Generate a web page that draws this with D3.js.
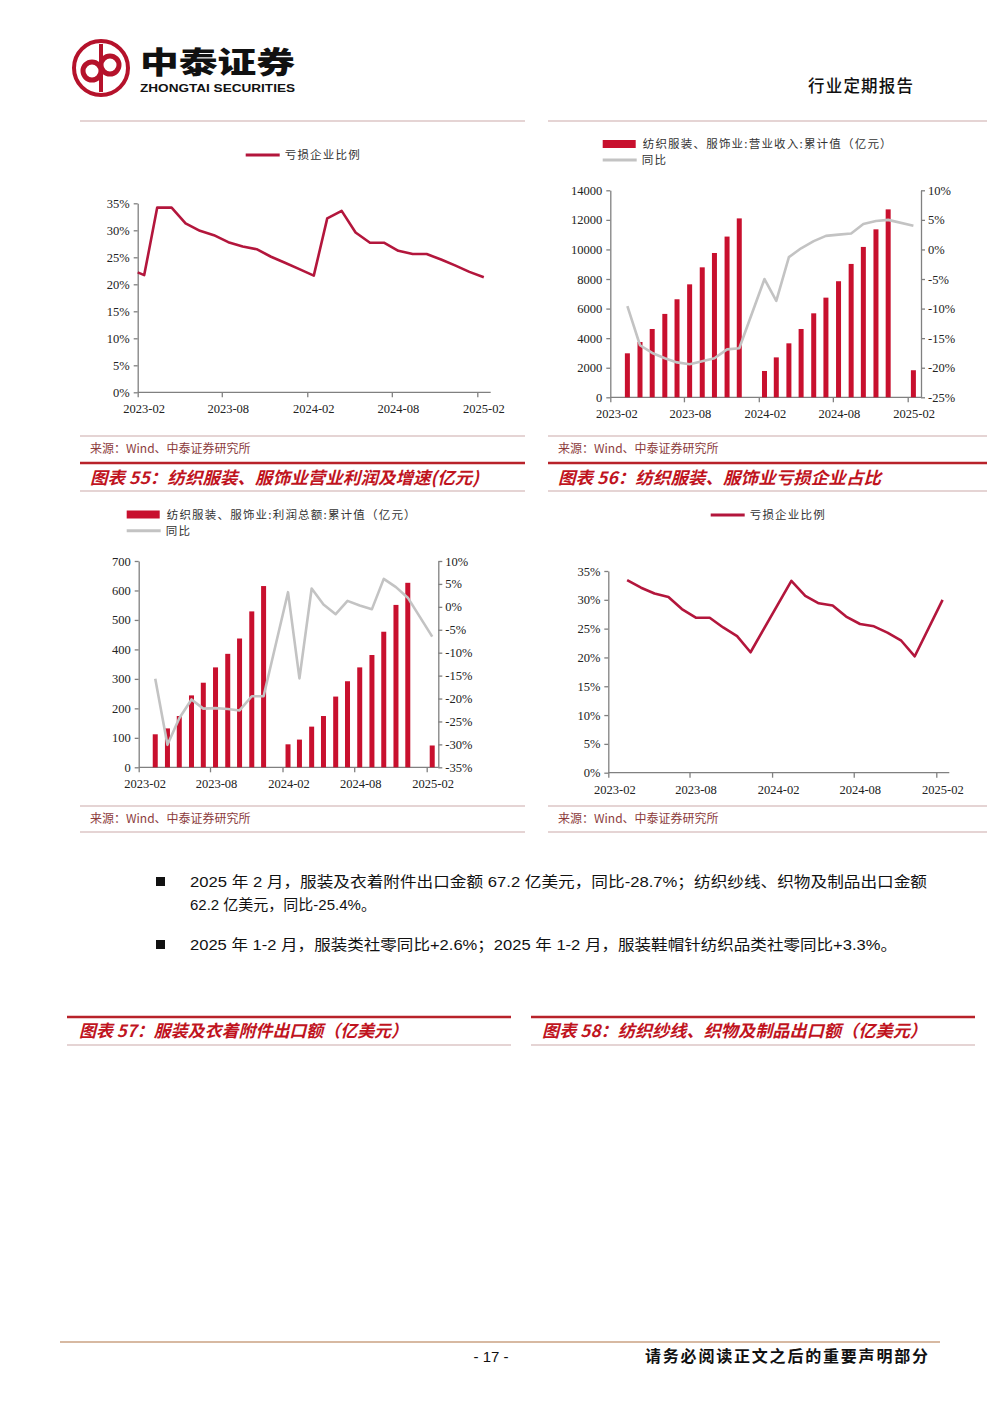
<!DOCTYPE html>
<html>
<head>
<meta charset="utf-8">
<script src="https://cdn.jsdelivr.net/npm/d3@7"></script>
<style>
body{margin:0;background:#fff}
svg text{font-family:"Noto Sans CJK SC",sans-serif}
.num{font-family:"Liberation Serif",serif;font-size:12.5px;fill:#222}
.leg{font-size:11.5px;letter-spacing:1.2px;fill:#333}
</style>
</head>
<body>
<div id="page"></div>
<script>
// ---- data ----
// chart 1 (top-left): loss-making firms ratio, previous figure
const loss1Dates=["2023-02-01","2023-02-15","2023-03-15","2023-04-15","2023-05-15","2023-06-15","2023-07-15","2023-08-15","2023-09-15","2023-10-15","2023-11-15","2023-12-15","2024-01-15","2024-02-15","2024-03-15","2024-04-15","2024-05-15","2024-06-15","2024-07-15","2024-08-15","2024-09-15","2024-10-15","2024-11-15","2024-12-15","2025-01-15","2025-02-15"];
const loss1=[22.2,21.7,34.2,34.2,31.3,29.9,29.1,27.8,27.0,26.5,25.1,24.0,22.8,21.6,32.2,33.6,29.6,27.7,27.7,26.2,25.6,25.6,24.6,23.5,22.3,21.3];

// charts 2 & 3: cumulative revenue / profit and yoy
const cumMonths=["2023-03","2023-04","2023-05","2023-06","2023-07","2023-08","2023-09","2023-10","2023-11","2023-12","2024-02","2024-03","2024-04","2024-05","2024-06","2024-07","2024-08","2024-09","2024-10","2024-11","2024-12","2025-02"];
const revenue=[2975,3740,4620,5640,6630,7640,8790,9760,10870,12100,1780,2700,3650,4620,5680,6740,7850,9020,10170,11360,12710,1830];
const revenueYoy=[-9.6,-16.2,-17.5,-18.4,-19.1,-19.4,-18.9,-18.4,-16.9,-16.7,-5.0,-8.7,-1.3,0.2,1.4,2.3,2.5,2.7,4.3,4.8,5.0,4.0];
const profit=[112,132,174,244,287,339,385,437,529,615,78,94,138,174,240,292,339,381,460,551,626,74];
const profitYoy=[-15.7,-30.1,-24.3,-20.2,-22.2,-22.1,-22.3,-22.6,-19.5,-19.5,3.2,-15.6,4.0,0.5,-1.6,1.3,0.3,-0.5,6.1,4.3,2.0,-6.5];

// chart 4 (middle-right): loss-making firms ratio
const loss4Months=["2023-03","2023-04","2023-05","2023-06","2023-07","2023-08","2023-09","2023-10","2023-11","2023-12","2024-03","2024-04","2024-05","2024-06","2024-07","2024-08","2024-09","2024-10","2024-11","2024-12","2025-02"];
const loss4=[33.4,32.1,31.1,30.5,28.4,26.9,26.9,25.2,23.7,20.9,33.3,30.7,29.4,29.0,27.1,25.8,25.4,24.3,22.9,20.2,30.0];

const xTicks=["2023-02","2023-08","2024-02","2024-08","2025-02"];
const pctTicks=[0,5,10,15,20,25,30,35];
const revTicks=[0,2000,4000,6000,8000,10000,12000,14000];
const revYoyTicks=[-25,-20,-15,-10,-5,0,5,10];
const profTicks=[0,100,200,300,400,500,600,700];
const profYoyTicks=[-35,-30,-25,-20,-15,-10,-5,0,5,10];

const RED="#c8102e", LINE="#b3163c", GREY="#c3c3c3", AXIS="#808080";

const W=1000,H=1414;
const svg=d3.select("#page").append("svg")
  .attr("width",W).attr("height",H)
  .attr("viewBox",`0 0 ${W} ${H}`);

const parseDay=d3.timeParse("%Y-%m-%d");
const mid=m=>parseDay(m+"-15");
const fmtPct=d=>d+"%";

function xScale(x0,x1){
  return d3.scaleTime().domain([parseDay("2023-02-01"),parseDay("2025-02-01")]).range([x0,x1]);
}

function drawX(g,x,y0,right){
  g.append("line").attr("x1",x.range()[0]).attr("x2",right).attr("y1",y0).attr("y2",y0)
    .attr("stroke",AXIS).attr("stroke-width",1.3);
  const a=g.append("g").attr("transform",`translate(0,${y0})`)
    .call(d3.axisBottom(x).tickValues(xTicks.map(t=>parseDay(t+"-01")))
      .tickFormat(d3.timeFormat("%Y-%m")).tickSize(5).tickSizeOuter(0));
  a.select(".domain").remove();
  a.selectAll("line").attr("stroke",AXIS).attr("stroke-width",1.3);
  a.selectAll("text").attr("class","num").attr("y",12).attr("dx",6);
}

function drawY(g,y,x0,ticks,fmt,side){
  const ax=(side==="right"?d3.axisRight(y):d3.axisLeft(y)).tickValues(ticks).tickFormat(fmt).tickSize(4).tickSizeOuter(0);
  const a=g.append("g").attr("transform",`translate(${x0},0)`).call(ax);
  a.selectAll("path,line").attr("stroke",AXIS).attr("stroke-width",1.3);
  a.selectAll("text").attr("class","num").attr("x",side==="right"?7:-8);
}

function lineLegend(x,y,color,label){
  svg.append("line").attr("x1",x).attr("x2",x+34).attr("y1",y).attr("y2",y)
    .attr("stroke",color).attr("stroke-width",3);
  svg.append("text").attr("class","leg").attr("x",x+39).attr("y",y+4).text(label);
}
function barLegend(x,y,label){
  svg.append("rect").attr("x",x).attr("y",y-4).attr("width",33).attr("height",8).attr("fill",RED);
  svg.append("text").attr("class","leg").attr("x",x+40).attr("y",y+4).text(label);
}

// ---- line-only chart ----
function lossChart(o){
  const g=svg.append("g");
  const x=xScale(o.x0,o.x1);
  const y=d3.scaleLinear().domain([0,35]).range([o.bottom,o.top]);
  drawY(g,y,o.x0,pctTicks,fmtPct,"left");
  drawX(g,x,o.bottom,o.right);
  g.append("path").datum(o.dates.map((d,i)=>[d,o.values[i]]))
    .attr("fill","none").attr("stroke",LINE).attr("stroke-width",2.6).attr("stroke-linejoin","round")
    .attr("d",d3.line().x(d=>x(d[0])).y(d=>y(d[1])));
}

// ---- bar + line chart ----
function comboChart(o){
  const g=svg.append("g");
  const x=xScale(o.x0,o.x1);
  const yL=d3.scaleLinear().domain(o.leftDomain).range([o.bottom,o.top]);
  const yR=d3.scaleLinear().domain(o.rightDomain).range([o.bottom,o.top]);
  drawY(g,yL,o.x0,o.leftTicks,d=>d,"left");
  drawY(g,yR,o.right,o.rightTicks,fmtPct,"right");
  drawX(g,x,o.bottom,o.right);
  const dates=cumMonths.map(mid);
  g.selectAll(".bar").data(o.bars).enter().append("rect")
    .attr("x",(d,i)=>x(dates[i])-2.5).attr("width",5)
    .attr("y",d=>yL(d)).attr("height",d=>yL(0)-yL(d)).attr("fill",RED);
  g.append("path").datum(o.yoy)
    .attr("fill","none").attr("stroke",GREY).attr("stroke-width",2.6).attr("stroke-linejoin","round")
    .attr("d",d3.line().x((d,i)=>x(dates[i])).y(d=>yR(d)));
}

lossChart({x0:137.7,x1:477.3,right:490.7,top:203.3,bottom:392.3,dates:loss1Dates.map(parseDay),values:loss1});
lineLegend(245.7,155,LINE,"亏损企业比例");

comboChart({x0:610.3,x1:907.7,right:921,top:190.3,bottom:397.3,
  leftDomain:[0,14000],rightDomain:[-25,10],leftTicks:revTicks,rightTicks:revYoyTicks,
  bars:revenue,yoy:revenueYoy});
barLegend(602.7,144,"纺织服装、服饰业:营业收入:累计值（亿元）");
lineLegend(602.7,160,GREY,"同比");

comboChart({x0:138.7,x1:426.7,right:438.3,top:561,bottom:767.3,
  leftDomain:[0,700],rightDomain:[-35,10],leftTicks:profTicks,rightTicks:profYoyTicks,
  bars:profit,yoy:profitYoy});
barLegend(126.7,514.5,"纺织服装、服饰业:利润总额:累计值（亿元）");
lineLegend(126.7,530.7,GREY,"同比");

lossChart({x0:608.3,x1:936.3,right:949.3,top:571,bottom:772.7,dates:loss4Months.map(mid),values:loss4});
lineLegend(710.7,515,LINE,"亏损企业比例");

// ---- page furniture ----
function rule(x1,x2,y,color,w){
  svg.append("line").attr("x1",x1).attr("x2",x2).attr("y1",y).attr("y2",y).attr("stroke",color).attr("stroke-width",w);
}
const RULE="#dcc6c6", TITLE_RED="#c0141e";
function source(x,y){
  svg.append("text").attr("x",x).attr("y",y+4).attr("font-size",12).attr("fill","#8c3c3c").text("来源：Wind、中泰证券研究所");
}
function title(x,y,txt,len){
  svg.append("text").attr("x",x).attr("y",y+6).attr("font-size",17).attr("font-weight",700)
    .attr("font-style","italic").attr("fill",TITLE_RED)
    .attr("textLength",len).attr("lengthAdjust","spacingAndGlyphs").text(txt);
}

[[80,525],[548,987]].forEach(([a,b])=>{
  rule(a,b,121,RULE,1.5); rule(a,b,436,RULE,1.5); rule(a,b,463,"#b8222a",2.5); rule(a,b,491,RULE,1.5);
  rule(a,b,806,RULE,1.5); rule(a,b,832,RULE,1.5);
  source(a+10,449); source(a+10,819);
});
title(90,478,"图表 55：纺织服装、服饰业营业利润及增速(亿元)",389);
title(558,478,"图表 56：纺织服装、服饰业亏损企业占比",323);

[[67,511],[531,975]].forEach(([a,b])=>{ rule(a,b,1017,"#b8222a",2.5); rule(a,b,1045,RULE,1.5); });
title(79,1031,"图表 57：服装及衣着附件出口额（亿美元）",329);
title(542,1031,"图表 58：纺织纱线、织物及制品出口额（亿美元）",385);

// body bullets
const body=svg.append("g").attr("font-size",15).attr("fill","#111");
[[882,"2025 年 2 月，服装及衣着附件出口金额 67.2 亿美元，同比-28.7%；纺织纱线、织物及制品出口金额",737],
 [905,"62.2 亿美元，同比-25.4%。",null],
 [945,"2025 年 1-2 月，服装类社零同比+2.6%；2025 年 1-2 月，服装鞋帽针纺织品类社零同比+3.3%。",707]]
 .forEach(([y,t,len])=>{
  const tx=body.append("text").attr("x",190).attr("y",y+5).style("font-family","Liberation Sans, Noto Sans CJK SC").text(t);
  if(len) tx.attr("textLength",len).attr("lengthAdjust","spacingAndGlyphs");
 });
[882,945].forEach(y=>body.append("rect").attr("x",156).attr("y",y-5).attr("width",9).attr("height",9).attr("fill","#111"));

// header logo
const logo=svg.append("g").attr("fill","none").attr("stroke","#b5122b");
logo.append("circle").attr("cx",101).attr("cy",68).attr("r",27).attr("stroke-width",4);
logo.append("circle").attr("cx",92).attr("cy",71).attr("r",9).attr("stroke-width",5);
logo.append("circle").attr("cx",110).attr("cy",65).attr("r",9).attr("stroke-width",5);
logo.append("line").attr("x1",101).attr("x2",101).attr("y1",44).attr("y2",92).attr("stroke-width",4);
svg.append("text").attr("x",140).attr("y",73).attr("font-size",30).attr("font-weight",900).attr("fill","#111")
  .attr("textLength",155).attr("lengthAdjust","spacingAndGlyphs").text("中泰证券");
svg.append("text").attr("x",140).attr("y",92).attr("font-size",10.5).attr("font-weight",700).attr("fill","#111")
  .style("font-family","Liberation Sans, Arial").attr("textLength",155).attr("lengthAdjust","spacingAndGlyphs").text("ZHONGTAI SECURITIES");
svg.append("text").attr("x",808).attr("y",92).attr("font-size",16.5).attr("font-weight",500).attr("fill","#111")
  .attr("textLength",105).attr("lengthAdjust","spacing").text("行业定期报告");

// footer
rule(60,940,1342,"#d7b9a2",2);
svg.append("text").attr("x",491).attr("y",1362).attr("text-anchor","middle").attr("font-size",15)
  .style("font-family","Liberation Sans, Arial").attr("fill","#111").text("- 17 -");
svg.append("text").attr("x",645).attr("y",1362).attr("font-size",16).attr("font-weight",700).attr("fill","#111")
  .attr("textLength",283).attr("lengthAdjust","spacing").text("请务必阅读正文之后的重要声明部分");
</script>
</body>
</html>
